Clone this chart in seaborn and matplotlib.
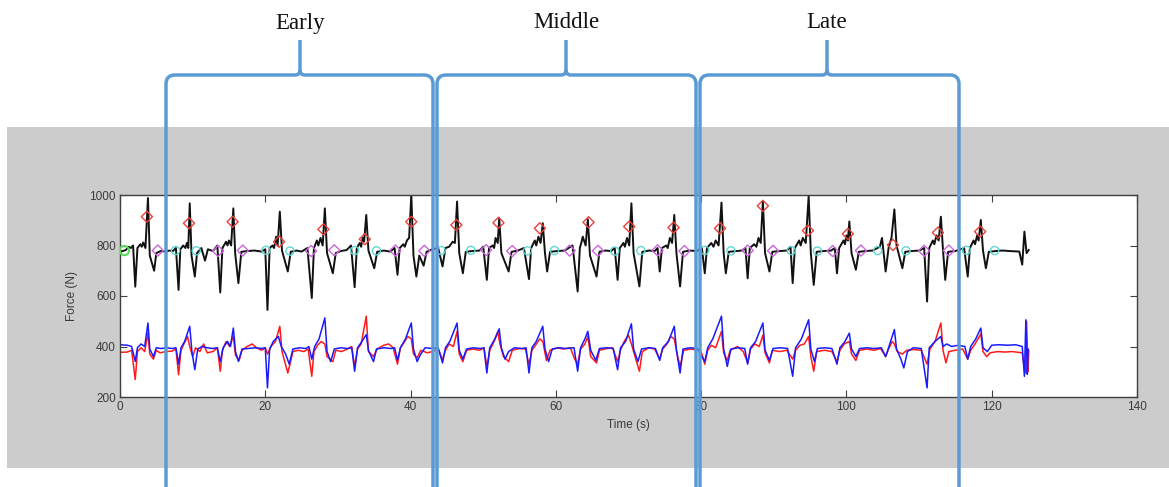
import numpy as np
import pandas as pd
import seaborn as sns
import matplotlib.pyplot as plt
from matplotlib.patches import Rectangle, PathPatch
from matplotlib.path import Path

# black trace: total vertical force (time s, force N)
black_trace = [
    (0.0, 775), (0.8, 782), (1.2, 795), (1.5, 790), (1.8, 800), (2.1, 637), (2.4, 790), (2.8, 805), (3.0, 795), (3.2, 812), (3.5, 790),
    (3.85, 988), (4.1, 760), (4.7, 700), (5.0, 770), (5.6, 778), (6.3, 776), (6.8, 780), (7.3, 778),
    (7.7, 790), (8.06, 624), (8.3, 785), (8.7, 800), (9.0, 790), (9.2, 810), (9.4, 790), (9.6, 967), (9.85, 760), (10.3, 677), (10.6, 770),
    (11.2, 790), (11.7, 740), (12.1, 785), (12.8, 778), (13.4, 800),
    (13.8, 614), (14.1, 790), (14.6, 815), (14.8, 800), (15.0, 820), (15.3, 800), (15.6, 947), (15.85, 770), (16.3, 651), (16.7, 775),
    (17.5, 778), (18.5, 780), (19.5, 776),
    (20.0, 785), (20.3, 545), (20.6, 790), (21.0, 800), (21.2, 790), (21.5, 835), (21.7, 800), (22.0, 934), (22.3, 780), (23.1, 697),
    (23.5, 775), (24.3, 780), (25.0, 776), (25.8, 790),
    (26.4, 592), (26.7, 790), (27.1, 820), (27.3, 800), (27.6, 830), (27.9, 800), (28.2, 947), (28.5, 770), (29.3, 690), (29.7, 770),
    (30.4, 778), (31.2, 782), (31.8, 800),
    (32.3, 635), (32.6, 790), (33.0, 810), (33.2, 795), (33.4, 830), (33.6, 815), (33.9, 921), (34.2, 780), (35.0, 710), (35.4, 775),
    (36.3, 780), (37.2, 776), (37.8, 790),
    (38.2, 684), (38.5, 790), (39.0, 805), (39.2, 795), (39.5, 820), (39.8, 830), (40.1, 1000), (40.4, 760), (40.8, 677), (41.2, 760),
    (41.8, 720), (42.2, 775), (43.0, 785), (43.8, 790),
    (44.4, 717), (44.8, 790), (45.3, 795), (45.8, 815), (46.1, 810), (46.4, 974), (46.7, 770), (47.2, 690), (47.6, 775),
    (48.5, 778), (49.5, 780), (50.0, 795),
    (50.5, 664), (50.8, 790), (51.3, 800), (51.5, 790), (51.7, 830), (52.0, 810), (52.2, 908), (52.5, 770), (53.5, 697), (53.9, 775),
    (54.8, 780), (55.6, 790),
    (56.3, 667), (56.6, 790), (57.1, 820), (57.3, 800), (57.6, 835), (57.9, 810), (58.2, 888), (58.5, 770), (58.8, 697), (59.2, 775),
    (60.2, 778), (61.2, 780), (62.3, 800),
    (63.0, 618), (63.3, 790), (63.5, 810), (63.7, 835), (64.1, 800), (64.4, 904), (64.7, 760), (65.6, 677), (66.0, 775), (66.8, 780),
    (67.6, 778), (68.1, 790),
    (68.5, 664), (68.8, 790), (69.3, 810), (69.5, 795), (69.8, 830), (70.1, 800), (70.4, 967), (70.7, 770), (71.5, 638), (71.9, 775),
    (72.8, 780), (73.6, 778), (74.0, 790),
    (74.3, 697), (74.6, 790), (75.2, 800), (75.4, 790), (75.7, 830), (76.0, 810), (76.3, 921), (76.6, 770), (77.1, 638), (77.5, 775),
    (78.4, 780), (79.4, 778), (80.1, 790),
    (80.5, 690), (80.8, 790), (81.4, 810), (81.7, 795), (82.0, 820), (82.4, 800), (82.8, 970), (83.1, 770), (83.4, 690), (83.8, 775),
    (84.8, 778), (85.6, 780), (86.1, 790),
    (86.4, 670), (86.7, 790), (87.3, 805), (87.6, 795), (87.9, 830), (88.2, 810), (88.5, 975), (88.8, 770), (89.4, 697), (89.8, 775),
    (90.8, 778), (91.8, 780), (92.3, 795),
    (92.6, 651), (92.9, 790), (93.5, 820), (93.7, 800), (94.0, 830), (94.4, 810), (94.8, 996), (95.1, 770), (95.5, 644), (95.9, 775),
    (96.9, 778), (97.9, 780), (98.4, 790),
    (98.7, 690), (99.0, 790), (99.6, 820), (99.8, 805), (100.0, 840), (100.2, 820), (100.4, 895), (100.7, 770), (101.3, 704), (101.7, 775),
    (102.6, 778), (103.6, 780), (104.6, 795), (104.9, 830),
    (105.4, 697), (105.8, 790), (106.2, 830), (106.6, 943), (106.9, 800), (107.7, 710), (108.1, 775), (109.0, 778),
    (110.0, 780), (110.7, 790),
    (111.1, 578), (111.4, 790), (111.9, 820), (112.1, 805), (112.4, 840), (112.7, 820), (113.0, 914), (113.3, 780), (113.6, 664),
    (114.0, 775), (115.0, 778), (116.2, 790),
    (116.7, 677), (117.0, 790), (117.5, 820), (117.7, 805), (118.0, 840), (118.2, 820), (118.5, 901), (118.8, 780), (119.2, 710),
    (119.6, 775), (120.5, 778), (121.5, 780), (122.5, 778), (123.8, 776), (124.2, 724), (124.5, 855), (124.8, 770), (125.1, 782),
]

# red trace: one plate
red_trace = [
    (0.0, 377), (1.0, 378), (1.6, 385), (2.1, 269), (2.4, 380), (2.9, 395), (3.4, 380), (3.85, 453), (4.1, 370), (4.6, 350),
    (5.0, 385), (5.5, 375), (6.3, 380), (7.2, 382),
    (7.7, 390), (8.06, 288), (8.4, 385), (8.8, 410), (9.3, 440), (9.6, 400), (10.0, 360), (10.4, 395), (11.0, 380),
    (11.5, 410), (12.0, 375), (12.8, 380), (13.4, 395),
    (13.8, 302), (14.1, 385), (14.6, 420), (15.1, 400), (15.6, 440), (15.9, 365), (16.4, 345), (16.8, 385), (17.5, 400),
    (18.2, 410), (18.8, 395), (19.5, 385),
    (20.0, 395), (20.3, 370), (20.8, 400), (21.4, 420), (22.0, 480), (22.3, 380), (23.1, 295), (23.4, 330), (23.8, 380),
    (24.5, 385), (25.3, 380), (25.9, 390),
    (26.4, 282), (26.7, 380), (27.2, 405), (27.7, 420), (28.2, 410), (28.5, 360), (29.3, 340), (29.7, 385), (30.5, 380),
    (31.3, 390), (31.9, 400),
    (32.3, 320), (32.7, 390), (33.2, 410), (33.9, 520), (34.2, 380), (34.9, 360), (35.4, 390), (36.3, 405), (37.0, 410),
    (37.6, 395),
    (38.2, 330), (38.6, 395), (39.2, 420), (39.6, 440), (40.1, 430), (40.4, 370), (40.9, 355), (41.4, 385), (42.3, 375),
    (43.0, 380), (43.8, 390),
    (44.4, 348), (44.8, 385), (45.3, 410), (45.9, 400), (46.4, 460), (46.7, 370), (47.2, 340), (47.7, 385), (48.6, 390),
    (49.5, 385), (50.1, 395),
    (50.5, 320), (50.9, 385), (51.5, 420), (52.0, 458), (52.3, 410), (52.8, 360), (53.5, 340), (54.0, 385), (55.0, 392),
    (55.8, 390),
    (56.3, 330), (56.7, 385), (57.2, 405), (57.8, 430), (58.2, 420), (58.7, 345), (59.2, 385), (60.2, 395), (61.0, 390),
    (62.0, 395), (62.6, 350),
    (63.0, 330), (63.4, 390), (64.0, 410), (64.4, 440), (64.8, 360), (65.6, 335), (66.0, 385), (67.0, 392), (67.8, 395),
    (68.5, 340), (68.9, 385), (69.4, 420), (70.0, 445), (70.4, 410), (70.8, 370), (71.5, 302), (71.9, 380), (72.8, 395),
    (73.6, 390),
    (74.3, 350), (74.7, 390), (75.3, 410), (75.8, 440), (76.3, 430), (76.7, 370), (77.1, 320), (77.6, 385), (78.6, 390),
    (79.5, 385),
    (80.0, 380), (80.5, 330), (80.9, 385), (81.4, 405), (82.0, 395), (82.8, 460), (83.1, 375), (83.6, 345), (84.0, 385),
    (85.0, 400), (85.8, 380),
    (86.4, 335), (86.8, 390), (87.4, 410), (88.0, 400), (88.5, 445), (88.8, 375), (89.4, 335), (89.8, 385), (90.8, 380),
    (91.8, 385),
    (92.6, 350), (93.0, 385), (93.6, 405), (94.2, 410), (94.8, 440), (95.1, 360), (95.5, 302), (95.9, 380), (97.0, 385),
    (98.0, 380),
    (98.7, 340), (99.1, 385), (99.7, 410), (100.4, 420), (100.7, 370), (101.3, 345), (101.8, 385), (102.8, 390),
    (103.8, 385), (104.7, 392),
    (105.4, 360), (105.8, 390), (106.3, 420), (106.6, 410), (107.0, 380), (107.7, 370), (108.3, 385), (109.3, 388),
    (110.3, 385),
    (111.1, 330), (111.5, 390), (112.2, 420), (113.0, 493), (113.3, 385), (113.7, 335), (114.1, 380), (115.0, 385),
    (116.0, 390),
    (116.7, 350), (117.1, 385), (117.7, 410), (118.5, 450), (118.8, 380), (119.3, 360), (119.8, 375), (120.8, 380),
    (121.8, 378), (122.8, 380), (124.2, 375), (124.6, 295), (124.8, 500), (125.0, 300), (125.1, 385),
]

# blue trace: other plate
blue_trace = [
    (0.0, 407), (1.0, 405), (1.6, 400), (2.1, 341), (2.4, 395), (2.9, 410), (3.4, 400), (3.85, 493), (4.1, 390), (4.6, 360),
    (5.0, 395), (5.6, 392), (6.4, 395), (7.2, 392),
    (7.7, 395), (8.06, 330), (8.4, 395), (8.9, 420), (9.6, 480), (9.9, 380), (10.3, 308), (10.7, 390), (11.3, 400),
    (12.0, 395), (12.8, 392), (13.4, 395),
    (13.8, 340), (14.2, 395), (14.8, 420), (15.2, 400), (15.6, 473), (15.9, 380), (16.3, 341), (16.8, 390), (17.6, 392),
    (18.6, 395), (19.5, 392),
    (20.0, 395), (20.3, 236), (20.6, 390), (21.1, 420), (21.8, 440), (22.2, 400), (22.8, 370), (23.3, 330), (23.8, 390),
    (24.7, 395), (25.6, 392),
    (26.0, 400), (26.4, 350), (26.8, 400), (27.4, 430), (28.2, 513), (28.5, 380), (29.0, 340), (29.5, 390), (30.4, 395),
    (31.3, 392), (31.9, 395),
    (32.3, 302), (32.7, 395), (33.3, 420), (33.9, 447), (34.2, 385), (34.9, 340), (35.3, 390), (36.3, 395), (37.3, 392),
    (37.8, 395),
    (38.2, 345), (38.6, 395), (39.3, 430), (40.1, 493), (40.4, 390), (40.9, 340), (41.4, 370), (42.0, 395), (43.0, 392),
    (43.8, 395),
    (44.4, 335), (44.8, 395), (45.4, 420), (46.4, 493), (46.7, 385), (47.2, 350), (47.7, 390), (48.6, 395), (49.6, 392),
    (50.1, 395),
    (50.5, 295), (50.9, 395), (51.6, 430), (52.2, 470), (52.5, 395), (53.0, 350), (53.5, 380), (54.3, 395), (55.3, 392),
    (55.9, 395),
    (56.3, 295), (56.7, 395), (57.3, 420), (58.2, 480), (58.5, 390), (59.0, 340), (59.5, 390), (60.4, 395), (61.4, 392),
    (62.5, 395),
    (63.0, 302), (63.4, 395), (64.0, 430), (64.4, 460), (64.8, 385), (65.5, 345), (66.0, 392), (67.0, 395), (67.9, 392),
    (68.5, 308), (68.9, 395), (69.6, 420), (70.4, 490), (70.7, 390), (71.3, 340), (71.8, 390), (72.8, 395), (73.7, 392),
    (74.3, 345), (74.7, 395), (75.5, 420), (76.3, 480), (76.6, 385), (77.1, 295), (77.5, 390), (78.5, 395), (79.5, 392),
    (80.5, 340), (80.9, 395), (81.6, 430), (82.8, 520), (83.1, 390), (83.6, 321), (84.1, 390), (85.1, 395), (86.0, 392),
    (86.4, 330), (86.8, 395), (87.5, 420), (88.5, 493), (88.8, 385), (89.4, 345), (89.9, 392), (90.9, 395), (91.9, 392),
    (92.6, 282), (93.0, 395), (93.8, 430), (94.8, 506), (95.1, 390), (95.6, 340), (96.0, 392), (97.0, 395), (98.0, 392),
    (98.7, 330), (99.1, 395), (99.8, 420), (100.4, 453), (100.7, 390), (101.3, 360), (101.8, 392), (102.8, 395),
    (103.8, 392), (104.8, 395),
    (105.4, 360), (105.8, 395), (106.6, 467), (106.9, 390), (107.5, 350), (107.9, 315), (108.4, 380), (109.2, 395),
    (110.3, 392),
    (111.1, 236), (111.4, 395), (112.2, 420), (113.0, 440), (113.3, 400), (113.8, 410), (114.5, 400), (115.4, 405),
    (116.3, 400),
    (116.7, 350), (117.1, 400), (117.8, 430), (118.5, 473), (118.8, 395), (119.4, 380), (120.0, 405), (121.0, 407),
    (122.2, 405), (123.3, 407), (124.2, 400), (124.5, 282), (124.7, 506), (124.9, 290), (125.0, 390),
]

# event markers
peak_t = [3.7, 9.5, 15.5, 21.9, 28.0, 33.7, 40.1, 46.3, 52.1, 57.8, 64.5, 70.1, 76.2, 82.6, 88.5, 94.7, 100.2, 106.4, 112.6, 118.4]
peak_f = [914, 888, 894, 815, 864, 825, 894, 881, 890, 868, 892, 875, 871, 868, 957, 859, 846, 802, 851, 855]
magenta_t = [5.2, 13.5, 16.9, 26.3, 29.5, 37.9, 41.9, 50.4, 54.0, 61.9, 65.8, 74.0, 77.7, 86.4, 89.9, 98.1, 102.0, 110.7, 114.1]
magenta_f = [780, 778, 780, 778, 781, 780, 779, 782, 778, 780, 779, 781, 778, 780, 779, 778, 780, 779, 780]
cyan_t = [7.65, 10.5, 20.1, 23.4, 32.3, 35.3, 44.2, 48.3, 56.1, 59.8, 68.1, 71.7, 80.5, 84.1, 92.4, 96.0, 104.3, 108.2, 116.5, 120.4]
cyan_f = [780, 779, 781, 778, 780, 779, 780, 781, 779, 780, 778, 780, 781, 779, 780, 778, 780, 779, 781, 780]
start_t = [0.6]
start_f = [780]

phase_labels = ["Early", "Middle", "Late"]

W, H = 1169, 487
fig = plt.figure(figsize=(W / 100, H / 100), dpi=100)
fig.patch.set_facecolor("white")
fig.add_artist(Rectangle((7 / W, 1 - 468 / H), 1.0, (468 - 127) / H, transform=fig.transFigure,
                         facecolor="#cccccc", edgecolor="none", zorder=0))

ax = fig.add_axes([120 / W, 1 - 397 / H, (1137 - 120) / W, (397 - 195) / H])
ax.set_facecolor("white")

def to_df(pairs):
    return pd.DataFrame(pairs, columns=["t", "f"])

sns.lineplot(data=to_df(black_trace), x="t", y="f", sort=False, estimator=None, color="#111111", lw=1.4, ax=ax)
sns.lineplot(data=to_df(red_trace), x="t", y="f", sort=False, estimator=None, color="#ff1a1a", lw=1.1, ax=ax)
sns.lineplot(data=to_df(blue_trace), x="t", y="f", sort=False, estimator=None, color="#1a1aff", lw=1.1, ax=ax)

sns.scatterplot(x=peak_t, y=peak_f, marker="D", s=32, facecolor="none", edgecolor="#e8413a", linewidth=1.0, ax=ax, zorder=5)
sns.scatterplot(x=magenta_t, y=magenta_f, marker="D", s=32, facecolor="none", edgecolor="#cc66dd", linewidth=1.0, ax=ax, zorder=5)
sns.scatterplot(x=cyan_t, y=cyan_f, marker="o", s=34, facecolor="none", edgecolor="#5fd8d0", linewidth=1.0, ax=ax, zorder=5)
sns.scatterplot(x=start_t, y=start_f, marker="o", s=44, facecolor="none", edgecolor="#55dd55", linewidth=1.5, ax=ax, zorder=5)

ax.set_xlim(0, 140)
ax.set_ylim(200, 1000)
ax.set_xticks(range(0, 141, 20))
ax.set_yticks(range(200, 1001, 200))
ax.tick_params(direction="in", top=True, right=True, length=5, width=0.8, color="#404040",
               labelcolor="#3a3a3a", labelsize=8.5, pad=3)
for lab in ax.get_xticklabels() + ax.get_yticklabels():
    lab.set_family("Liberation Sans")
for sp in ax.spines.values():
    sp.set_color("#404040")
    sp.set_linewidth(1.0)
ax.set_xlabel("Time (s)", fontsize=8.5, color="#3a3a3a", family="Liberation Sans", labelpad=4)
ax.set_ylabel("Force (N)", fontsize=8.5, color="#3a3a3a", family="Liberation Sans", labelpad=8)

# phase braces drawn over the figure in pixel coordinates
brace_color = "#5b9bd5"
braces = [(166, 433, 300), (437, 696, 566), (700, 959, 827)]

def fxy(x, y):
    return (x / W, 1 - y / H)

y_h, y_top, y_bot, r = 75, 40, 487, 9
for (x0, x1, xm), name in zip(braces, phase_labels):
    verts = [fxy(x0, y_bot), fxy(x0, y_h + r), fxy(x0, y_h), fxy(x0 + r, y_h),
             fxy(xm - 5, y_h), fxy(xm, y_h), fxy(xm, y_h - 5), fxy(xm, y_top),
             fxy(xm, y_h - 5), fxy(xm, y_h), fxy(xm + 5, y_h),
             fxy(x1 - r, y_h), fxy(x1, y_h), fxy(x1, y_h + r), fxy(x1, y_bot)]
    codes = [Path.MOVETO, Path.LINETO, Path.CURVE3, Path.CURVE3,
             Path.LINETO, Path.CURVE3, Path.CURVE3, Path.LINETO,
             Path.MOVETO, Path.CURVE3, Path.CURVE3,
             Path.LINETO, Path.CURVE3, Path.CURVE3, Path.LINETO]
    fig.add_artist(PathPatch(Path(verts, codes), transform=fig.transFigure, facecolor="none",
                             edgecolor=brace_color, lw=2.5, zorder=10, capstyle="butt"))
    fig.text(xm / W, 1 - 23 / H, name, ha="center", va="center", fontsize=16.5,
             family="Liberation Serif", color="#111111")

fig.savefig("out.png", dpi=100)
